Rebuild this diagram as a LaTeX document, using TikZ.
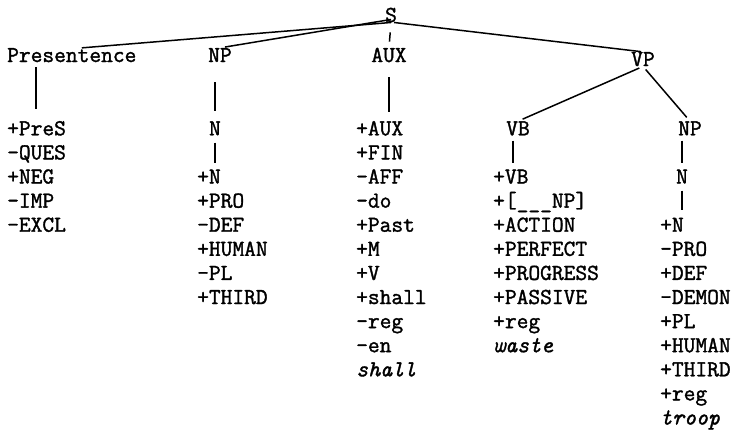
\documentclass[tikz,border=0pt]{standalone}
\usepackage{fontspec}
\newfontfamily\twfont{Latin Modern Mono}[FakeBold=1.5]
\begin{document}
\begin{tikzpicture}[x=1pt,y=-1pt,
  every node/.style={inner sep=0pt, font=\twfont\fontsize{22.8}{24}\selectfont},
  feat/.style={anchor=base west},
  head/.style={anchor=base},
  edge/.style={line width=1.5pt}]
\useasboundingbox (0,0) rectangle (742,429);
% headers
\node[head] (S) at (391,22) {S};
\node[anchor=base west] (Pres) at (7,62) {Presentence};
\node[head] (NP1) at (220,62) {NP};
\node[head] (AUX) at (389,62) {AUX};
\node[head] (VP) at (643,66) {VP};
\node[head] (VB) at (518,135.3) {VB};
\node[head] (NP2) at (690,135.3) {NP};
\node[head] (N1) at (215,135.3) {N};
\node[head] (N2) at (682,183.5) {N};
% feature lists
\foreach \t [count=\i from 0] in {+PreS,-QUES,+NEG,-IMP,-EXCL}
  \node[feat] (p\i) at (7,{135.3+\i*24.1}) {\t};
\foreach \t [count=\i from 2] in {+N,+PRO,-DEF,+HUMAN,-PL,+THIRD}
  \node[feat] (a\i) at (197,{135.3+\i*24.1}) {\t};
\foreach \t [count=\i from 0] in {+AUX,+FIN,-AFF,-do,+Past,+M,+V,+shall,-reg,-en,\itshape shall}
  \node[feat] (x\i) at (356,{135.3+\i*24.1}) {\t};
\foreach \t [count=\i from 2] in {+VB,{+[\textunderscore\textunderscore\textunderscore NP]},+ACTION,+PERFECT,+PROGRESS,+PASSIVE,+reg,\itshape waste}
  \node[feat] (v\i) at (493,{135.3+\i*24.1}) {\t};
\foreach \t [count=\i from 4] in {+N,-PRO,+DEF,-DEMON,+PL,+HUMAN,+THIRD,+reg,\itshape troop}
  \node[feat] (b\i) at (660,{135.3+\i*24.1}) {\t};
% connectors from S
\draw[edge] (S.south) -- ([xshift=10pt]Pres.north);
\draw[edge, shorten >=5pt] ([yshift=3pt]S.south) -- (NP1.north);
\draw[edge, shorten <=10pt, shorten >=6pt] (S.south) -- (AUX.north);
\draw[edge, shorten >=2pt] ([xshift=3pt]S.south) -- (VP.north);
\draw[edge, shorten <=4pt, shorten >=5pt] (VP.south) -- (VB.north);
\draw[edge, shorten <=4pt, shorten >=5pt] (VP.south) -- (NP2.north);
% vertical bars
\draw[edge, shorten <=5pt, shorten >=12pt] ([xshift=29pt]Pres.south west) -- ([xshift=29pt]Pres.south west |- p0.north);
\draw[edge, shorten <=20pt, shorten >=10pt] (N1 |- NP1.south) -- (N1.north);
\draw[edge, shorten <=15pt, shorten >=9pt] (AUX.south) -- (AUX.south |- x0.north);
\draw[edge, shorten <=7pt, shorten >=6pt] (N1.south) -- (N1.south |- a2.north);
\draw[edge, shorten <=5pt, shorten >=6pt] ([xshift=-5pt]VB.south) -- ([xshift=-5pt]VB.south |- v2.north);
\draw[edge, shorten <=5pt, shorten >=6pt] (N2 |- NP2.south) -- (N2.north);
\draw[edge, shorten <=7pt, shorten >=8pt] (N2.south) -- (N2.south |- b4.north);
\end{tikzpicture}
\end{document}
